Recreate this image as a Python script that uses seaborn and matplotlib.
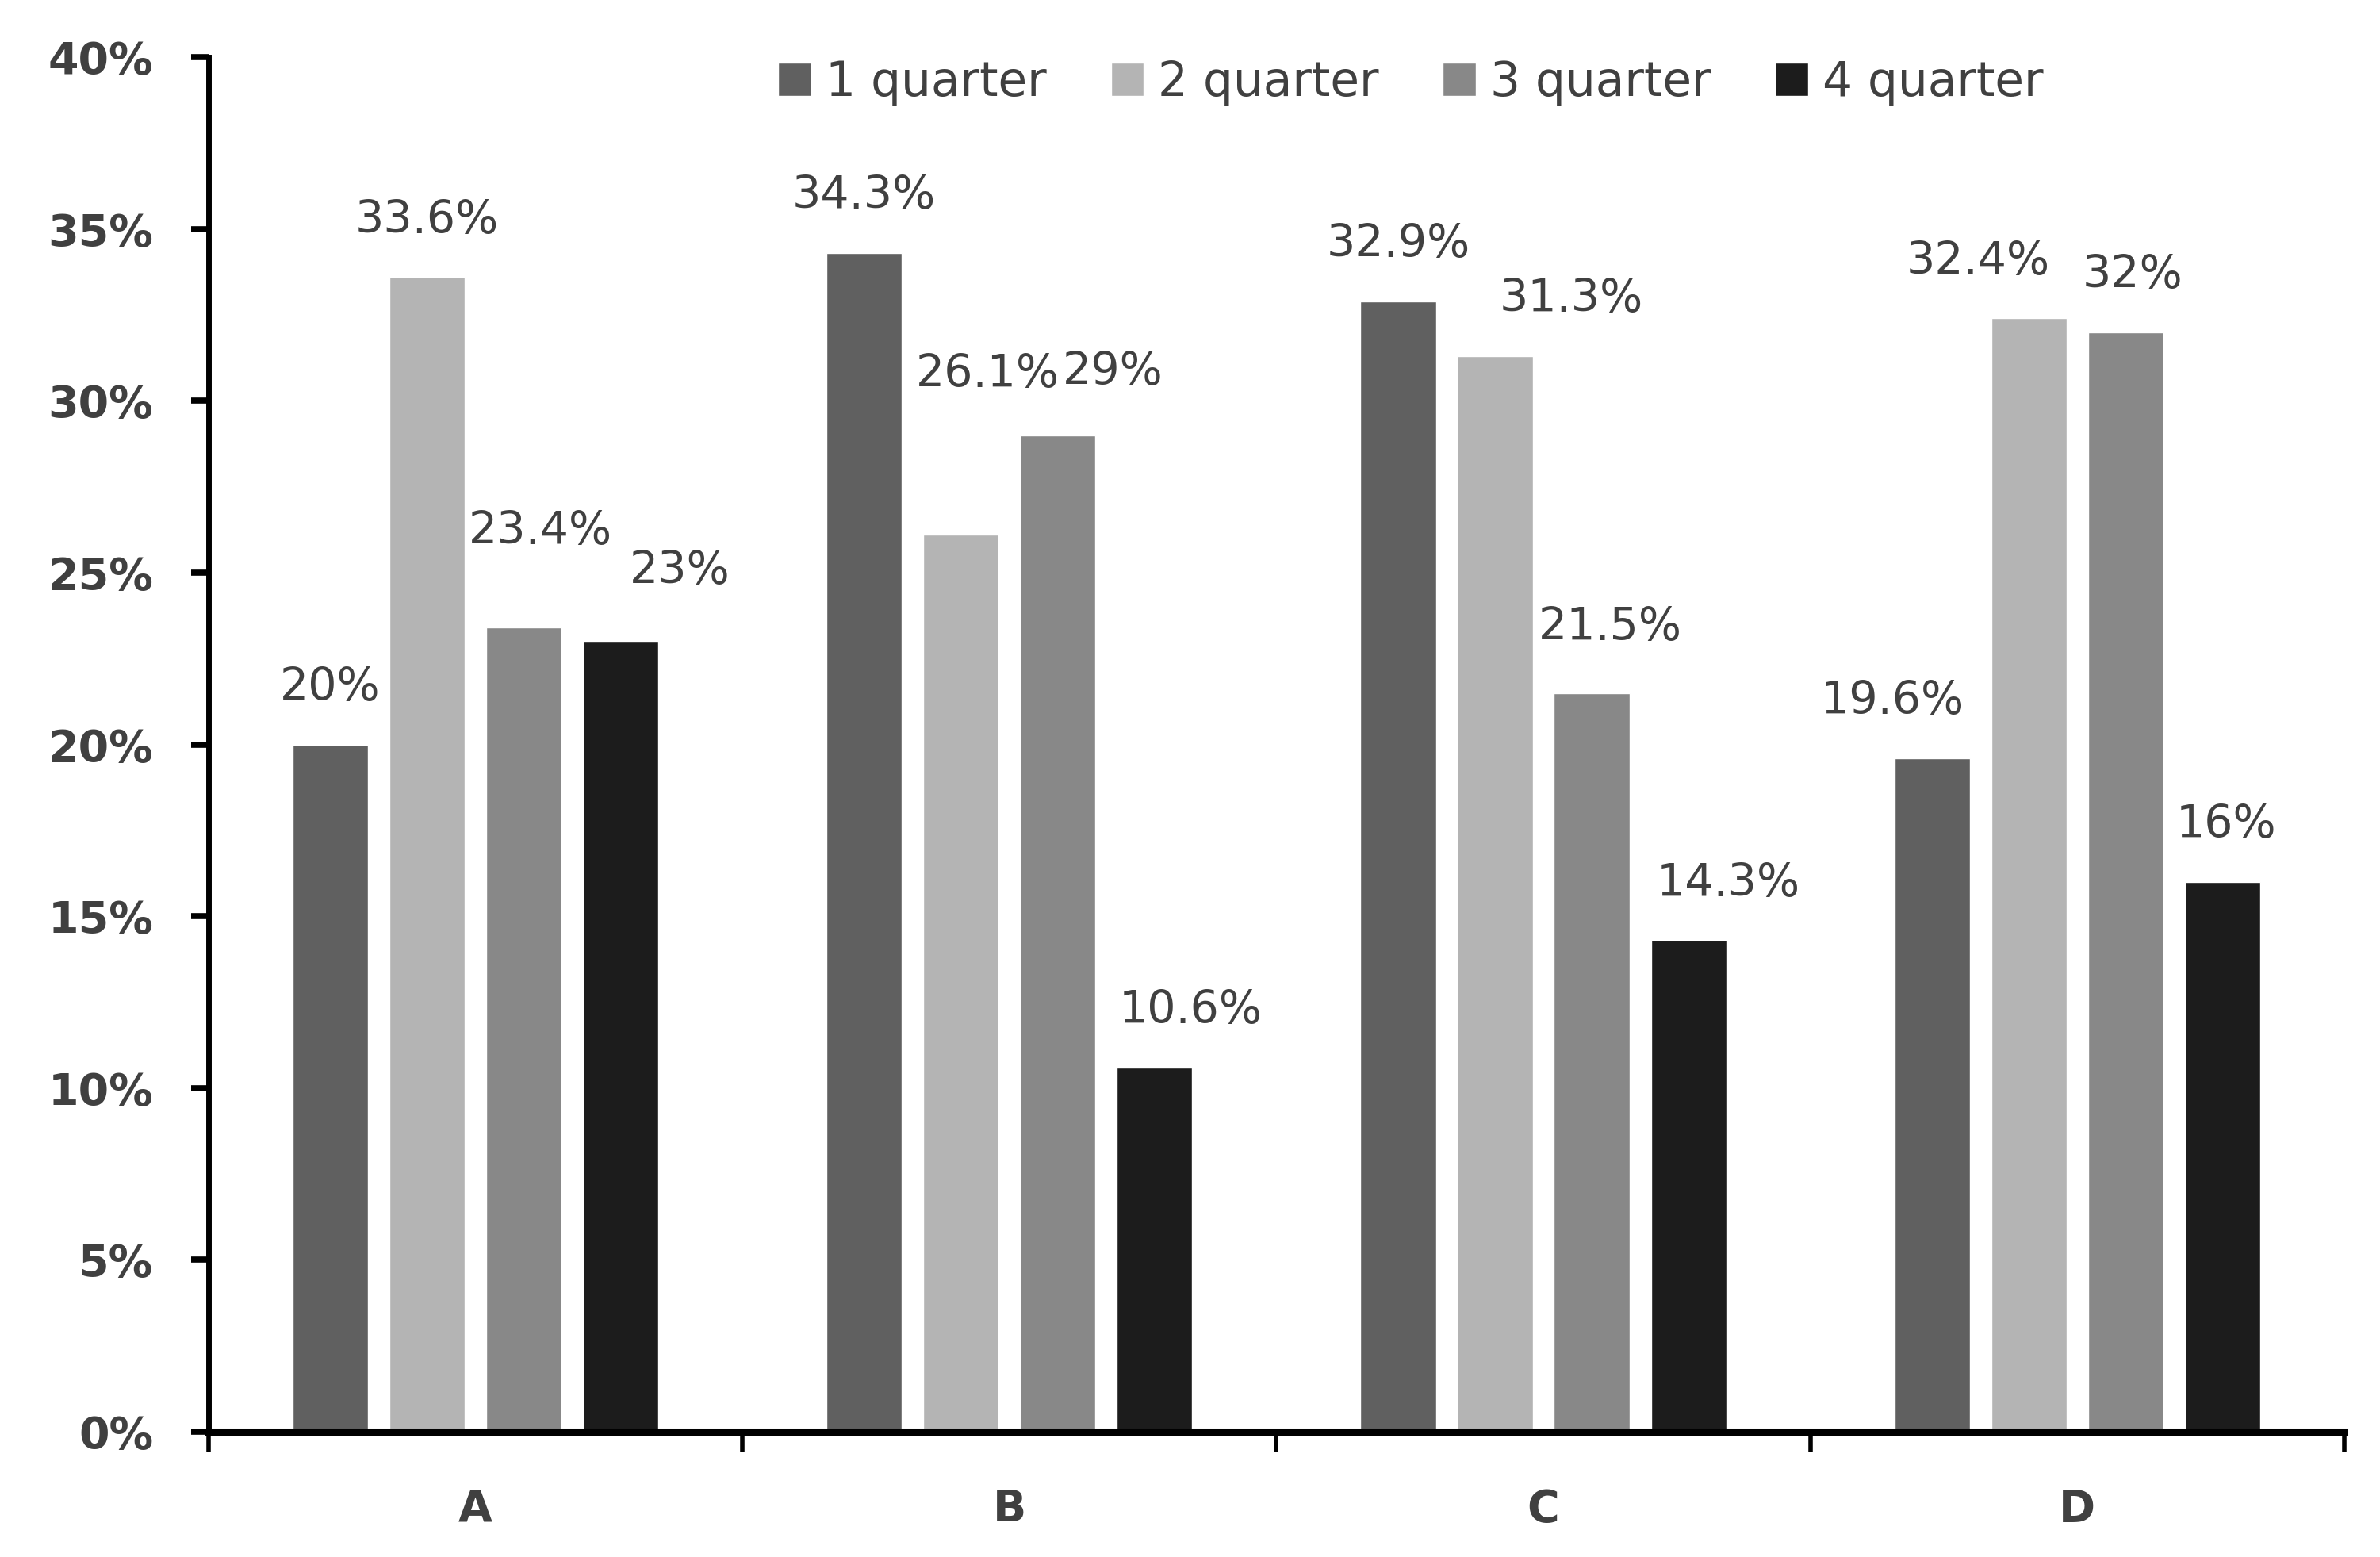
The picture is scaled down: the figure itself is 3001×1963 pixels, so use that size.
import matplotlib
matplotlib.use("Agg")
import matplotlib.pyplot as plt
import seaborn as sns
import pandas as pd

categories = ["A", "B", "C", "D"]
series_names = ["1 quarter", "2 quarter", "3 quarter", "4 quarter"]
q1 = [20.0, 34.3, 32.9, 19.6]
q2 = [33.6, 26.1, 31.3, 32.4]
q3 = [23.4, 29.0, 21.5, 32.0]
q4 = [23.0, 10.6, 14.3, 16.0]
yticks = [0, 5, 10, 15, 20, 25, 30, 35, 40]
colors = ["#606060", "#b4b4b4", "#888888", "#1c1c1c"]

# label nudges (points) relative to default position above each bar, [series][category]
label_dx = [[0, 0, 0, -36], [0, 24, 69, -46], [15, 50, 17, 6], [54, 33, 36, 3]]
label_dy = [[0, 0, 0, 0], [0, 94, 0, 0], [36, 6, 8, 0], [12, 0, 0, 0]]

rows = []
for name, vals in zip(series_names, [q1, q2, q3, q4]):
    for c, v in zip(categories, vals):
        rows.append({"cat": c, "series": name, "value": v})
df = pd.DataFrame(rows)

sns.set_style("white")
plt.rcParams["font.family"] = ["DejaVu Sans"]
TXT = "#404040"

fig = plt.figure(figsize=(30.01, 19.63), dpi=100)
L, R, B, T = 0.0876, 0.985, 0.0805, 0.9633
ax = fig.add_axes([L, B, R - L, T - B])

sns.barplot(data=df, x="cat", y="value", hue="series", order=categories,
            hue_order=series_names, palette=colors, saturation=1,
            width=0.725, gap=0.22, ax=ax, errorbar=None)

ax.set_xlim(-0.5, 3.5)
ax.set_ylim(0, 40)
ax.set_yticks(yticks)
ax.set_yticklabels([f"{t}%" for t in yticks])
ax.set_xlabel("")
ax.set_ylabel("")

for s in ["top", "right"]:
    ax.spines[s].set_visible(False)
ax.spines["left"].set_linewidth(5)
ax.spines["bottom"].set_linewidth(6.5)
ax.spines["left"].set_color("black")
ax.spines["bottom"].set_color("black")

ax.tick_params(axis="y", which="major", direction="out", length=16, width=5.5,
               color="black", left=True, labelsize=40, labelcolor=TXT, pad=34)
for lab in ax.get_yticklabels():
    lab.set_fontweight("bold")
ax.tick_params(axis="x", which="major", length=0, labelsize=40, labelcolor=TXT, pad=51)
for lab in ax.get_xticklabels():
    lab.set_fontweight("bold")
ax.set_xticks([-0.5, 0.5, 1.5, 2.5, 3.5], minor=True)
ax.tick_params(axis="x", which="minor", direction="out", length=18, width=4,
               color="black", bottom=True)

for si, cont in enumerate(ax.containers):
    for ci, patch in enumerate(cont.patches):
        h = patch.get_height()
        xc = patch.get_x() + patch.get_width() / 2
        ax.annotate(f"{h:g}%", xy=(xc, h), xytext=(label_dx[si][ci], 40 + label_dy[si][ci]),
                    textcoords="offset points", ha="center", va="baseline",
                    fontsize=41, color=TXT, annotation_clip=False)

handles, labels = ax.get_legend_handles_labels()
ax.legend(handles, labels, loc="center", bbox_to_anchor=(0.563, 0.9815), ncol=4,
          frameon=False, fontsize=43, handlelength=0.7, handleheight=0.7,
          handletextpad=0.3, columnspacing=1.35, labelcolor=TXT)

fig.savefig("out.png", dpi=100)
